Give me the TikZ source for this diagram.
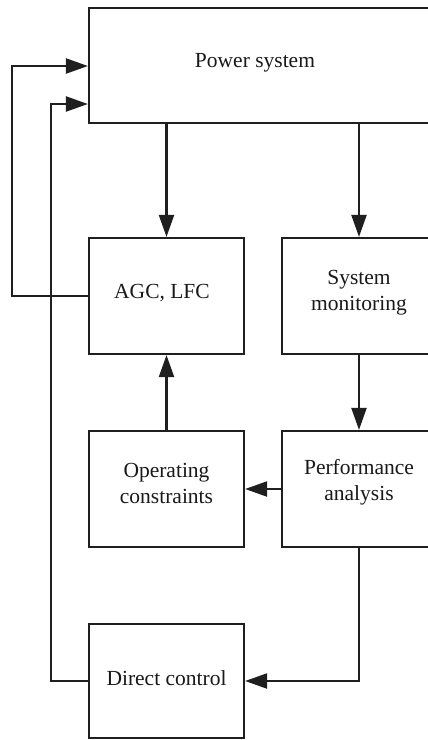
\documentclass[tikz,border=0pt]{standalone}
\usepackage{fontspec}
\setmainfont{Liberation Serif}
\usetikzlibrary{arrows.meta}
\begin{document}
\begin{tikzpicture}[x=1pt,y=-1pt,
  box/.style={draw=black!88,line width=2.2pt,rectangle,inner sep=0pt,
    minimum width=155pt,minimum height=116pt},
  txt/.style={align=center,font=\fontsize{21.5}{26}\selectfont,text=black!90,inner sep=0pt},
  arr/.style={draw=black!88,line width=2.2pt,-{Triangle[length=22pt,width=15pt]}}]
\clip (0,0) rectangle (428,740);
\fill[white] (0,0) rectangle (428,740);
\node[box,minimum width=347pt,minimum height=115pt] (ps) at (262.5,65.5) {};
\node[box] (agc) at (166.5,296) {};
\node[box,minimum width=154pt] (mon) at (359,296) {};
\node[box] (op) at (166.5,489) {};
\node[box,minimum width=154pt] (perf) at (359,489) {};
\node[box,minimum height=114pt] (dc) at (166.5,681) {};
\node[txt] (pst) at (255,63) {Power system};
\node[txt] (agct) at (162,293) {AGC, LFC};
\node[txt] (mont) at (359,293) {System\\monitoring};
\node[txt] (opt) at (166.5,483) {Operating\\constraints};
\node[txt] (perft) at (359,482) {Performance\\analysis};
\node[txt] (dct) at (166.5,678) {Direct control};
\coordinate (l1) at (12,66);
\coordinate (l2) at (51,104);
\draw[arr] (agc.north |- ps.south) -- (agc.north);
\draw[arr] (mon.north |- ps.south) -- (mon.north);
\draw[arr] (op.north) -- (agc.south);
\draw[arr] (mon.south) -- (perf.north);
\draw[arr] (perf.west) -- (op.east);
\draw[arr] (perf.south) |- (dc.east);
\draw[arr] (agc.west) -| (l1) -- (ps.west |- l1);
\draw[arr] (dc.west) -| (l2) -- (ps.west |- l2);
\end{tikzpicture}
\end{document}
